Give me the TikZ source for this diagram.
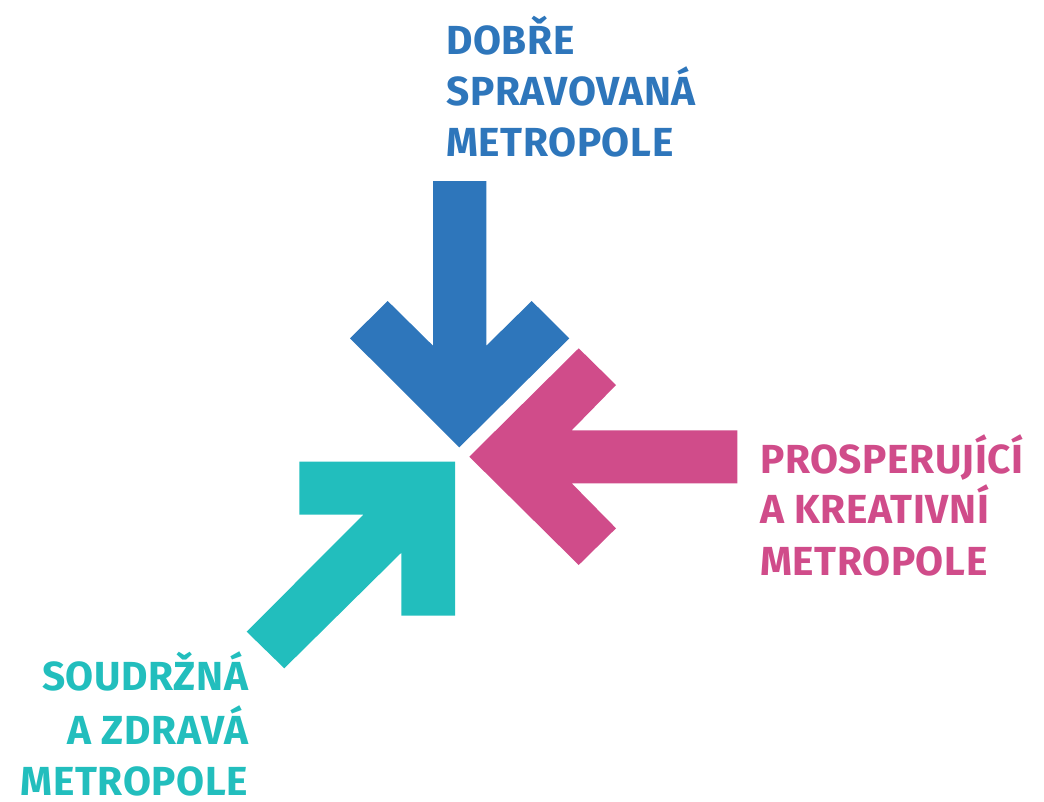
\documentclass[tikz,border=0pt]{standalone}
\usepackage{fontspec}
\setmainfont{Fira Sans}
\newfontfamily\lblfont[LetterSpace=1.5]{Fira Sans}
\definecolor{cblue}{RGB}{46,118,187}
\definecolor{cpink}{RGB}{208,76,138}
\definecolor{cteal}{RGB}{34,190,189}
\tikzset{
  lbl/.style={inner sep=0pt, font=\lblfont\fontsize{40.6}{50}\selectfont\bfseries},
}
\begin{document}
\begin{tikzpicture}[x=1pt,y=-1pt]
\useasboundingbox (0,0) rectangle (1044,801);
% blue arrow (down)
\fill[cblue] (433,181) -- (486.3,181) -- (486.3,345.7) -- (531.7,301) -- (569.3,338.3)
  -- (459.3,447.3) -- (350,338.3) -- (387.7,301) -- (433,345.7) -- cycle;
% pink arrow (left)
\fill[cpink] (737.3,430.3) -- (571.7,430.3) -- (616,385) -- (578.7,348.3) -- (469.3,456.7)
  -- (578.7,565) -- (616,528.3) -- (571.7,483.3) -- (737.3,483.3) -- cycle;
% teal arrow (up-right)
\fill[cteal] (299.3,461.7) -- (455,461.7) -- (455,615.7) -- (401.3,615.7) -- (401.3,552.7)
  -- (284.3,668.3) -- (246.7,631.7) -- (363.3,514.7) -- (299.3,514.7) -- cycle;
% labels
\node[lbl, text=cblue, anchor=base west] (b1) at (446,54) {DOBŘE};
\node[lbl, text=cblue, anchor=base west] (b2) at (446,105) {SPRAVOVANÁ};
\node[lbl, text=cblue, anchor=base west] (b3) at (446,156.7) {METROPOLE};
\node[lbl, text=cpink, anchor=base west] (p1) at (760,473.3) {PROSPERUJÍCÍ};
\node[lbl, text=cpink, anchor=base west] (p2) at (760,523.3) {A KREATIVNÍ};
\node[lbl, text=cpink, anchor=base west] (p3) at (760,575.7) {METROPOLE};
\node[lbl, text=cteal, anchor=base east] (t1) at (248.3,690.7) {SOUDRŽNÁ};
\node[lbl, text=cteal, anchor=base east] (t2) at (248.3,744.3) {A ZDRAVÁ};
\node[lbl, text=cteal, anchor=base east] (t3) at (248.3,795.5) {METROPOLE};
\end{tikzpicture}
\end{document}
